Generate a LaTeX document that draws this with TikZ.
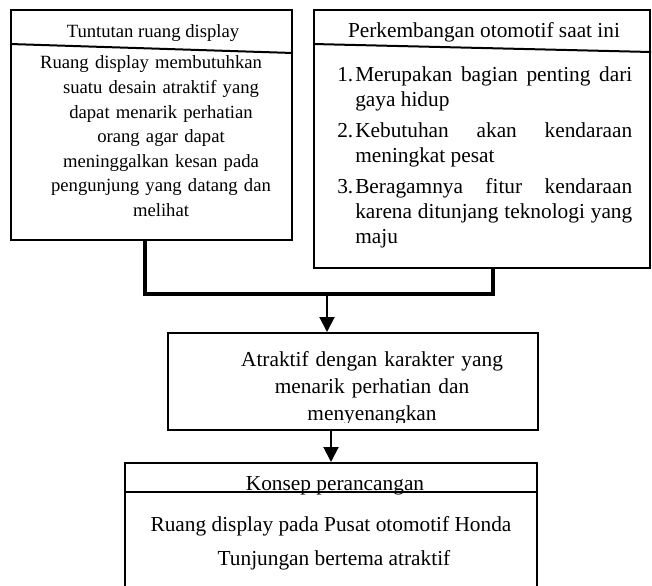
\documentclass[tikz,border=0pt]{standalone}
\usepackage{fontspec}
\setmainfont{Liberation Serif}
\usetikzlibrary{arrows.meta}
\begin{document}
\begin{tikzpicture}[x=0.75pt,y=-0.75pt,
  box/.style={draw, line width=1.5pt, rectangle, inner sep=0},
  txt/.style={inner sep=0, anchor=base},
  small/.style={font=\fontsize{14pt}{18.4pt}\selectfont},
  big/.style={font=\fontsize{16pt}{20.6pt}\selectfont},
  bracket/.style={line width=3pt},
  arr/.style={line width=1.5pt, -{Triangle[width=11.25pt,length=11.25pt]}},
  hline/.style={line width=1.5pt}]
\path[use as bounding box, clip] (0,0) rectangle (652,585);

% boxes
\node[box, minimum width=210.75pt, minimum height=172.5pt] (L) at (151.5,125) {};
\node[box, minimum width=252pt, minimum height=193.5pt] (R) at (482,139) {};
\node[box, minimum width=277.5pt, minimum height=72.75pt] (M) at (353,381.5) {};
\node[box, minimum width=309pt, minimum height=117.75pt] (B) at (331,541.5) {};

% header lines
\draw[hline] ([yshift=-26.25pt]L.north west) -- ([yshift=-33pt]L.north east);
\draw[hline] ([yshift=-26.25pt]R.north west) -- ([yshift=-32.25pt]R.north east);
\draw[hline] ([yshift=-22.5pt]B.north west) -- ([yshift=-22.5pt]B.north east);

% left box texts
\node[txt, small] (Lh) at (153,38) {Tuntutan ruang display};
\node[txt, small, text width=187.5pt, align=center] (Lt) at (161,69)
  {\mbox{Ruang display membutuhkan\hspace{15pt}}\\ suatu desain atraktif yang\\ dapat menarik perhatian\\ orang agar dapat\\ meninggalkan kesan pada\\ pengunjung yang datang dan\\ melihat};

% right box texts
\node[txt, big] (Rh) at (484,38) {Perkembangan otomotif saat ini};
\node[txt, anchor=base west, text width=221.25pt, align=justify,
      font=\fontsize{16pt}{18.75pt}\selectfont] (Rt) at (337,81.5)
  {\parskip=4.5pt
   \hangindent=13.5pt\hangafter=0\noindent\llap{\makebox[13.5pt][l]{1.}}Merupakan bagian penting dari\linebreak gaya hidup\par
   \hangindent=13.5pt\hangafter=0\noindent\llap{\makebox[13.5pt][l]{2.}}Kebutuhan akan kendaraan\linebreak meningkat pesat\par
   \hangindent=13.5pt\hangafter=0\noindent\llap{\makebox[13.5pt][l]{3.}}Beragamnya fitur kendaraan\linebreak karena ditunjang teknologi yang\linebreak maju\par};

% middle box text (clipped by the box bottom)
\begin{scope}
  \clip (M.north west) rectangle ([yshift=6.4pt]M.south east);
  \node[txt, big, text width=260pt, align=center] (Mt) at (372,366)
    {Atraktif dengan karakter yang\\ menarik perhatian dan\\ menyenangkan};
\end{scope}

% bottom box texts
\node[txt, big] (Bh) at (335,490) {Konsep perancangan};
\node[txt, big] (B1) at (331,531) {Ruang display pada Pusat otomotif Honda};
\node[txt, big] (B2) at (334,565) {Tunjungan bertema atraktif};

% connectors
\coordinate (J) at (327,293);
\draw[bracket] ([xshift=-4.875pt]L.south) -- ++(0,53) -| ([xshift=8.25pt]R.south);
\draw[arr] (J) -- (J |- M.north);
\draw[arr] (B.north |- M.south) -- (B.north);
\end{tikzpicture}
\end{document}
